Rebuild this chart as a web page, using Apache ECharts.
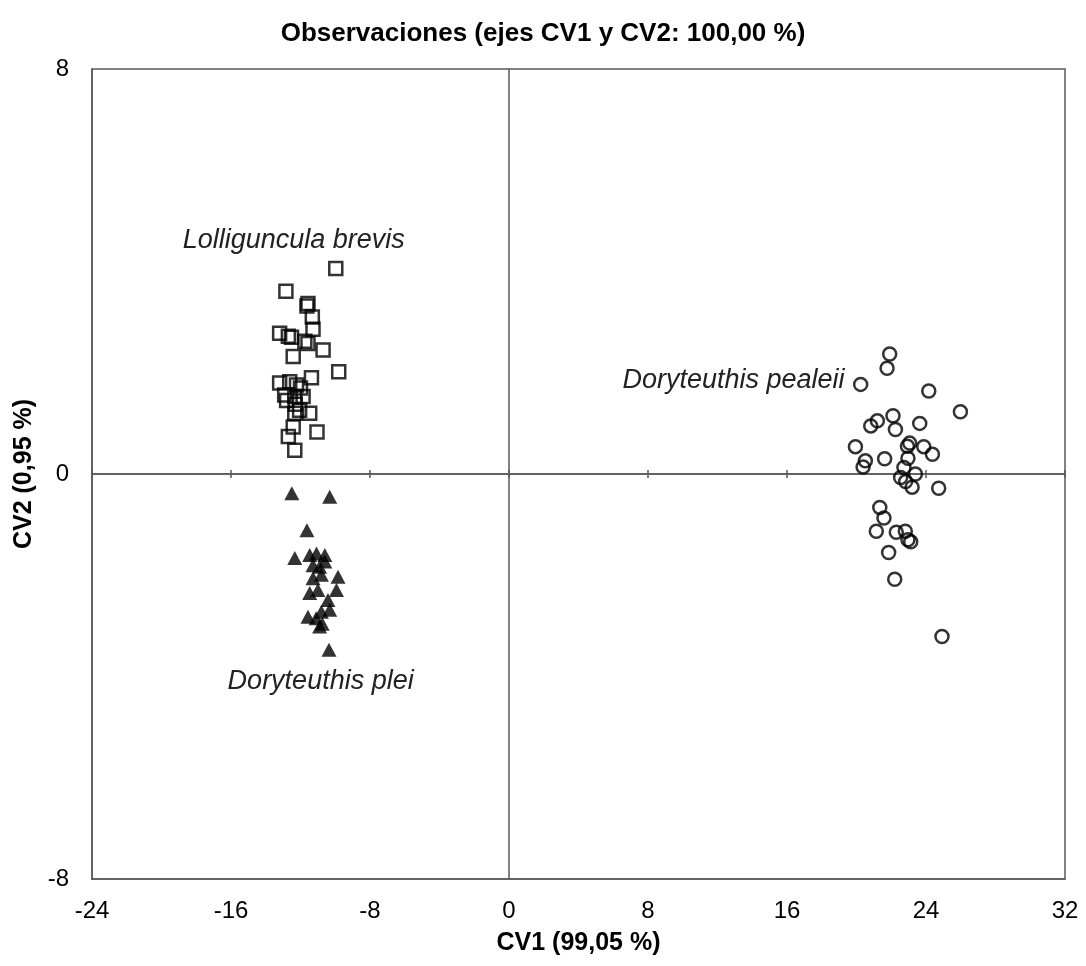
<!DOCTYPE html>
<html>
<head>
<meta charset="utf-8">
<script src="https://cdn.jsdelivr.net/npm/echarts@6/dist/echarts.min.js"></script>
<style>html,body{margin:0;padding:0;background:#fff;}#c{width:1086px;height:966px;}</style>
</head>
<body>
<div id="c"></div>
<script>
// Lolliguncula brevis (squares)
const brevisX = [-9.97,-12.84,-11.57,-11.63,-11.32,-11.28,-13.2,-12.7,-12.52,-11.57,-11.75,-10.7,-12.42,-9.8,-13.2,-12.62,-11.37,-12.23,-12.0,-12.91,-12.33,-11.85,-12.8,-12.3,-11.47,-12.33,-12.05,-12.42,-11.05,-12.7,-12.33];
const brevisY = [4.06,3.61,3.37,3.32,3.1,2.86,2.78,2.72,2.70,2.58,2.62,2.45,2.32,2.02,1.80,1.82,1.90,1.76,1.70,1.56,1.53,1.53,1.45,1.38,1.20,1.20,1.26,0.93,0.83,0.74,0.47];
// Doryteuthis plei (triangles)
const pleiX = [-12.5,-10.32,-11.63,-12.33,-11.47,-11.08,-10.6,-11.28,-10.9,-10.6,-9.84,-11.28,-10.8,-9.93,-11.47,-11.0,-10.42,-10.32,-10.8,-11.57,-11.1,-10.9,-10.75,-10.36];
const pleiY = [-0.38,-0.45,-1.11,-1.66,-1.60,-1.57,-1.60,-1.80,-1.83,-1.73,-2.03,-2.06,-1.99,-2.29,-2.35,-2.29,-2.49,-2.68,-2.72,-2.82,-2.85,-3.01,-2.96,-3.47];
// Doryteuthis pealeii (circles)
const pealeiX = [21.91,21.76,20.24,24.16,25.98,22.1,21.2,20.82,22.24,23.64,19.94,23.06,22.93,23.87,24.37,21.62,22.96,20.51,20.38,22.73,23.39,22.54,22.83,23.2,24.73,21.34,21.58,21.14,22.29,22.81,22.96,23.12,21.85,22.2,24.92];
const pealeiY = [2.37,2.09,1.77,1.64,1.23,1.15,1.05,0.95,0.88,1.0,0.54,0.61,0.55,0.54,0.39,0.30,0.31,0.26,0.14,0.13,0.0,-0.07,-0.15,-0.26,-0.28,-0.66,-0.87,-1.13,-1.15,-1.13,-1.30,-1.34,-1.55,-2.08,-3.21];
// Axis ticks
const xTicks = [-24,-16,-8,0,8,16,24,32];
const yTicks = [-8,0,8];
// Labels
const labelTexts = ['Lolliguncula brevis','Doryteuthis pealeii','Doryteuthis plei'];
const labelX = [-12.39,12.92,-10.84];
const labelY = [4.62,1.84,-4.1];

const zip = (a,b) => a.map((v,i)=>[v,b[i]]);
const FONT = "'Liberation Sans', Arial, sans-serif";
const lineCol = '#595959';

const chart = echarts.init(document.getElementById('c'), null, {renderer:'canvas'});
const baseX = {type:'value', min:xTicks[0], max:xTicks[xTicks.length-1], interval:8, splitLine:{show:false}};
const baseY = {type:'value', min:yTicks[0], max:yTicks[yTicks.length-1], interval:8, splitLine:{show:false}};

chart.setOption({
  animation:false,
  backgroundColor:'#fff',
  title:{text:'Observaciones (ejes CV1 y CV2: 100,00 %)', left:'center', top:16,
    textStyle:{fontFamily:FONT, fontSize:26, fontWeight:'bold', color:'#000'}},
  grid:{left:92, right:21, top:69, bottom:87, show:true, borderColor:lineCol, borderWidth:1.5, backgroundColor:'transparent'},
  xAxis:[
    Object.assign({}, baseX, {position:'bottom', axisLine:{onZero:false, show:true, lineStyle:{color:lineCol, width:1.5}},
      axisTick:{show:false}, axisLabel:{show:true, margin:20, fontFamily:FONT, fontSize:24, color:'#000'},
      name:'CV1 (99,05 %)', nameLocation:'middle', nameGap:52,
      nameTextStyle:{fontFamily:FONT, fontSize:25, fontWeight:'bold', color:'#000'}}),
    Object.assign({}, baseX, {position:'top', axisLine:{onZero:true, onZeroAxisIndex:0, show:true, lineStyle:{color:lineCol, width:1.5}},
      axisTick:{show:true, length:4, lineStyle:{color:lineCol, width:1.5}}, axisLabel:{show:false}}),
    Object.assign({}, baseX, {position:'bottom', axisLine:{onZero:true, onZeroAxisIndex:0, show:true, lineStyle:{color:lineCol, width:1.5}},
      axisTick:{show:true, length:4, lineStyle:{color:lineCol, width:1.5}}, axisLabel:{show:false}})
  ],
  yAxis:[
    Object.assign({}, baseY, {position:'left', axisLine:{onZero:false, show:true, lineStyle:{color:lineCol, width:1.5}},
      axisTick:{show:false}, axisLabel:{show:true, margin:23, fontFamily:FONT, fontSize:24, color:'#000'},
      name:'CV2 (0,95 %)', nameLocation:'middle', nameGap:55, nameRotate:90,
      nameTextStyle:{fontFamily:FONT, fontSize:25, fontWeight:'bold', color:'#000'}}),
    Object.assign({}, baseY, {position:'left', axisLine:{onZero:true, onZeroAxisIndex:0, show:true, lineStyle:{color:lineCol, width:1.5}},
      axisTick:{show:false}, axisLabel:{show:false}})
  ],
  series:[
    {type:'scatter', name:'brevis', xAxisIndex:0, yAxisIndex:0, data:zip(brevisX,brevisY),
      symbol:'rect', symbolSize:13, itemStyle:{color:'transparent', borderColor:'#000', borderWidth:2.5}, z:5,
      markPoint:{symbol:'circle', symbolSize:0, silent:true,
        label:{show:true, position:'inside', formatter:p=>p.name, fontFamily:FONT, fontSize:27, fontStyle:'italic', color:'#222'},
        data:labelTexts.map((t,i)=>({name:t, coord:[labelX[i],labelY[i]]}))}},
    {type:'scatter', name:'pealeii', xAxisIndex:0, yAxisIndex:0, data:zip(pealeiX,pealeiY),
      symbol:'circle', symbolSize:13, itemStyle:{color:'transparent', borderColor:'#000', borderWidth:2.5}, z:5},
    {type:'scatter', name:'plei', xAxisIndex:0, yAxisIndex:0, data:zip(pleiX,pleiY),
      symbol:'triangle', symbolSize:[15,14], itemStyle:{color:'#000', borderColor:'#000', borderWidth:0}, z:5}
  ]
});
</script>
</body>
</html>
